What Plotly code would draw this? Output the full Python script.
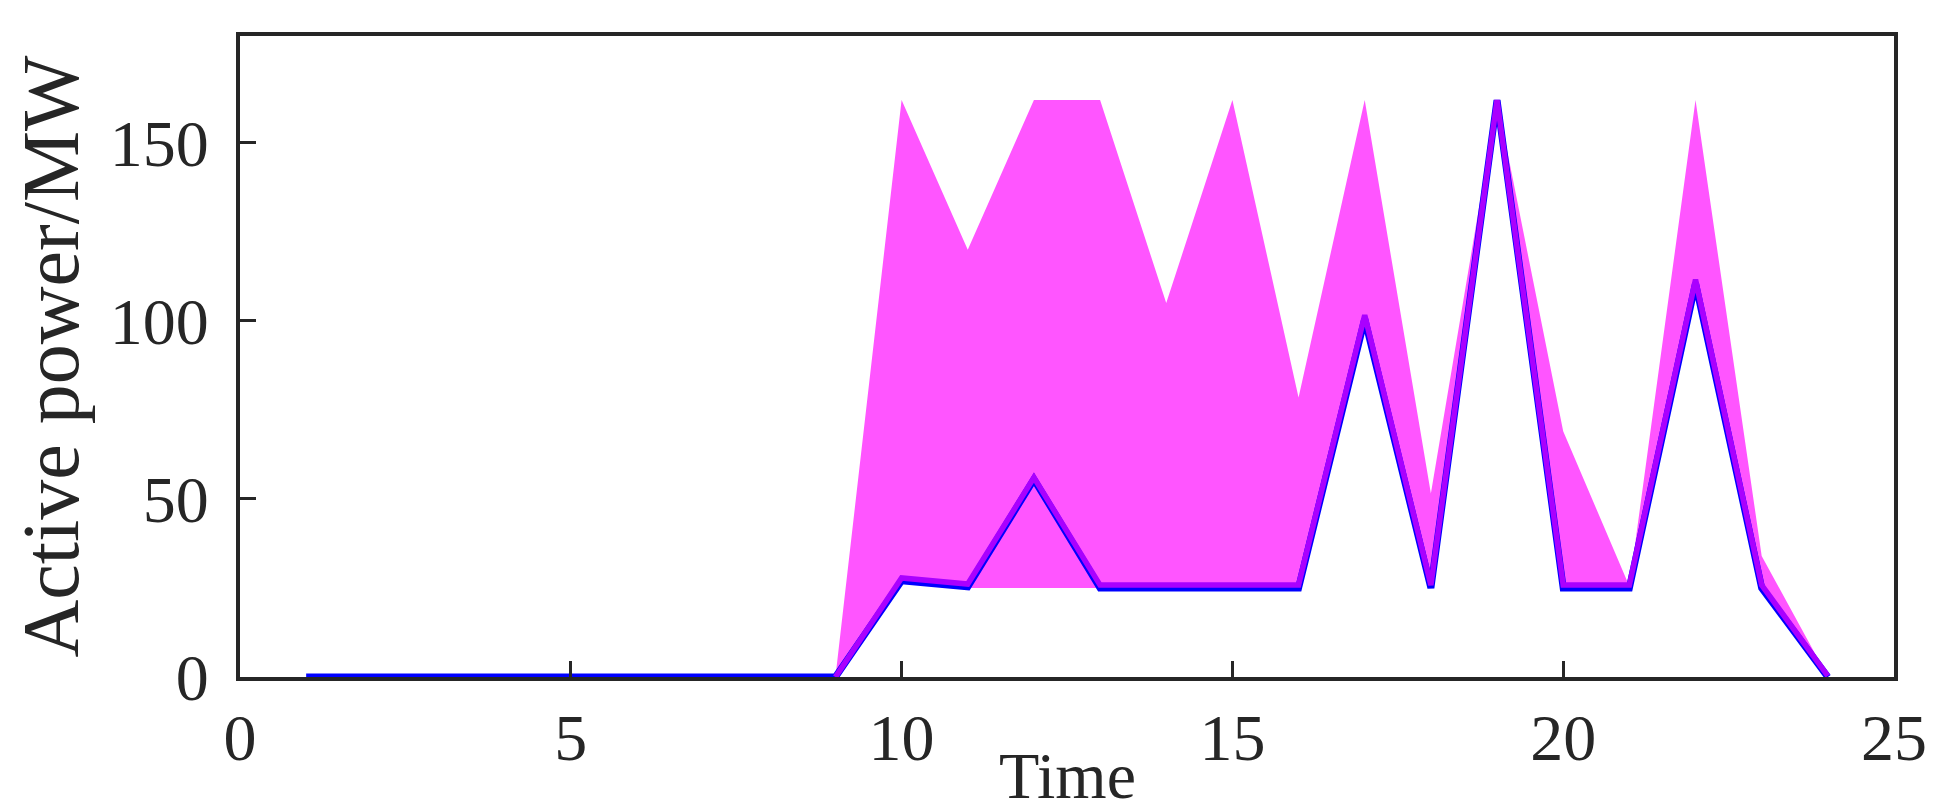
import plotly.graph_objects as go

time = list(range(1, 25))
upper = [0, 0, 0, 0, 0, 0, 0, 0, 0, 162, 120, 162, 162, 105, 162, 78.5, 162, 51.5, 162, 69, 25.5, 162, 34, 0]
lower = [0, 0, 0, 0, 0, 0, 0, 0, 0, 27, 25, 25, 25, 25, 25, 25, 100, 25, 162, 25, 25, 110, 25, 0]
blue_line = [0, 0, 0, 0, 0, 0, 0, 0, 0, 27, 25.3, 55.5, 25, 25, 25, 25, 100.5, 25, 162, 25, 25, 110.5, 25, 0]
purple_time = list(range(9, 25))
purple_line = [0, 27.8, 26.1, 56, 25.8, 25.8, 25.8, 25.8, 101.6, 25.8, 162, 25.8, 25.8, 111.6, 25.8, 0.3]

x_ticks = [0, 5, 10, 15, 20, 25]
y_ticks = [0, 50, 100, 150]

FONT = "Liberation Serif, Times New Roman, serif"
AX = "#262626"

fig = go.Figure()
fig.add_trace(go.Scatter(x=time, y=lower, mode="lines", line=dict(width=0, color="#FF55FF"),
                         showlegend=False, hoverinfo="skip"))
fig.add_trace(go.Scatter(x=time, y=upper, mode="lines", line=dict(width=0, color="#FF55FF"),
                         fill="tonexty", fillcolor="#FF55FF", showlegend=False))
fig.add_trace(go.Scatter(x=time, y=blue_line, mode="lines", line=dict(width=7, color="#0000FF"),
                         showlegend=False))
fig.add_trace(go.Scatter(x=purple_time, y=purple_line, mode="lines", line=dict(width=5.5, color="#AA00FF"),
                         showlegend=False))

fig.update_layout(
    width=1942, height=810,
    margin=dict(l=232, r=56, t=28, b=141),
    plot_bgcolor="white", paper_bgcolor="white",
    font=dict(family=FONT, size=66, color=AX),
)
fig.update_xaxes(range=[0, 25], tickvals=x_ticks, ticks="inside", ticklen=16, tickwidth=3, tickcolor=AX,
                 showline=True, linewidth=4, linecolor=AX, mirror=True, showgrid=False, zeroline=False)
fig.update_yaxes(range=[0, 180], tickvals=y_ticks, ticks="inside", ticklen=16, tickwidth=3, tickcolor=AX,
                 showline=True, linewidth=4, linecolor=AX, mirror=True, showgrid=False, zeroline=False,
                 ticklabelstandoff=14)
fig.add_annotation(text="Time", xref="paper", yref="paper", x=0.5, y=0, yanchor="middle",
                   yshift=-98, showarrow=False, font=dict(size=66, family=FONT, color=AX))
fig.add_annotation(text="Active power/MW", xref="paper", yref="paper", x=0, y=0.5,
                   xanchor="center", yanchor="middle", xshift=-190, textangle=-90,
                   showarrow=False, font=dict(size=80, family=FONT, color=AX))
fig.write_html("out.html")
